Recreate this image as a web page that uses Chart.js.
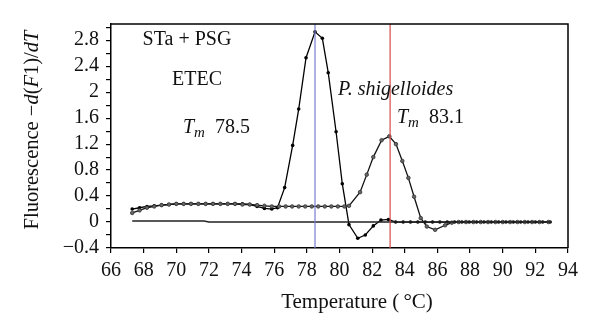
<!DOCTYPE html>
<html>
<head>
<meta charset="utf-8">
<script src="https://cdn.jsdelivr.net/npm/chart.js@4"></script>
<style>
  html, body { margin: 0; padding: 0; background: #fff; }
  #wrap { width: 600px; height: 335px; }
</style>
</head>
<body>
<div id="wrap"><canvas id="melt" width="600" height="335"></canvas></div>
<script>
// ETEC curve (filled dots)
const etecTemps = [67.3, 67.75, 68.2, 68.65, 69.1, 69.55, 70.0, 70.45, 70.9, 71.35, 71.8, 72.25, 72.7, 73.15, 73.6, 74.05, 74.5, 74.95, 75.4, 75.85, 76.2,
  76.64, 77.13, 77.5, 77.95, 78.5, 78.95, 79.31, 79.79, 80.17, 80.58, 81.12, 81.58, 82.07, 82.54, 83.0, 83.44,
  83.9, 84.35, 84.8, 85.25, 85.7, 86.15, 86.6, 87.05, 87.5, 87.95, 88.4, 88.85, 89.3, 89.75, 90.2, 90.65, 91.1, 91.55, 92.0, 92.45, 92.9];
const etecValues = [0.2, 0.22, 0.24, 0.25, 0.26, 0.27, 0.28, 0.28, 0.28, 0.28, 0.28, 0.28, 0.28, 0.28, 0.28, 0.28, 0.27, 0.24, 0.21, 0.2, 0.22,
  0.53, 1.18, 1.74, 2.53, 2.93, 2.83, 2.3, 1.39, 0.59, -0.04, -0.25, -0.2, -0.06, 0.03, 0.04, 0.0,
  0.0, 0.0, 0.0, 0.0, 0.0, 0.0, 0.0, 0.0, 0.0, 0.0, 0.0, 0.0, 0.0, 0.0, 0.0, 0.0, 0.0, 0.0, 0.0, 0.0, 0.0];

// P. shigelloides curve
const psgTemps = [67.3, 67.75, 68.2, 68.65, 69.1, 69.55, 70.0, 70.45, 70.9, 71.35, 71.8, 72.25, 72.7, 73.15, 73.6, 74.05, 74.5, 74.95, 75.4, 75.85,
  76.3, 76.7, 77.1, 77.5, 77.9, 78.3, 78.7, 79.1, 79.5, 79.9, 80.3, 80.58, 81.26, 81.67, 82.07, 82.58, 83.05, 83.46, 83.85, 84.22, 84.57, 84.98,
  85.35, 85.86, 86.47, 86.88, 87.3, 87.75, 88.2, 88.65, 89.1, 89.55, 90.0, 90.45, 90.9, 91.35, 91.8, 92.25, 92.8];
const psgValues = [0.14, 0.18, 0.22, 0.24, 0.26, 0.27, 0.28, 0.28, 0.28, 0.28, 0.28, 0.28, 0.28, 0.28, 0.28, 0.27, 0.27, 0.26, 0.25, 0.24,
  0.24, 0.24, 0.24, 0.24, 0.24, 0.24, 0.24, 0.24, 0.24, 0.24, 0.24, 0.25, 0.46, 0.73, 1.0, 1.26, 1.32, 1.2, 0.94, 0.68, 0.39, 0.06,
  -0.07, -0.12, -0.05, -0.01, 0.0, 0.0, 0.0, 0.0, 0.0, 0.0, 0.0, 0.0, 0.0, 0.0, 0.0, 0.0, 0.0];

// baseline (no markers)
const baseTemps = [67.3, 71.7, 72.0, 93.0];
const baseValues = [0.015, 0.015, 0.0, 0.0];

// melting temperatures
const tmEtec = 78.5;
const tmPsg = 83.1;

const xTicks = [66, 68, 70, 72, 74, 76, 78, 80, 82, 84, 86, 88, 90, 92, 94];
const yTickLabels = [-0.4, 0, 0.4, 0.8, 1.2, 1.6, 2, 2.4, 2.8];
const yMin = -0.4, yMax = 3.05;

const toPoints = (xs, ys) => xs.map((x, i) => ({ x: x, y: ys[i] }));
const SERIF = '"Liberation Serif", "DejaVu Serif", serif';

// texts drawn by hand (italic parts, axis titles, frame)
const annotations = {
  id: 'annotations',
  afterDraw(chart) {
    const ctx = chart.ctx;
    const a = chart.chartArea;
    ctx.save();
    // frame top + right
    ctx.strokeStyle = '#000';
    ctx.lineWidth = 1.5;
    ctx.beginPath();
    ctx.moveTo(a.left, a.top);
    ctx.lineTo(a.right, a.top);
    ctx.lineTo(a.right, a.bottom);
    ctx.stroke();

    ctx.fillStyle = '#111';
    ctx.textBaseline = 'middle';
    ctx.textAlign = 'center';
    ctx.font = '20px ' + SERIF;
    ctx.fillText('STa + PSG', 187, 40);
    ctx.fillText('ETEC', 197, 80);

    // pieces of mixed-style text
    function runs(parts, x, y) {
      let cx = x;
      parts.forEach(p => {
        ctx.font = p[1] + SERIF;
        ctx.fillText(p[0], cx, y + (p[2] || 0));
        cx += ctx.measureText(p[0]).width;
      });
      return cx;
    }
    function width(parts) {
      let w = 0;
      parts.forEach(p => { ctx.font = p[1] + SERIF; w += ctx.measureText(p[0]).width; });
      return w;
    }
    ctx.textAlign = 'left';
    runs([['T', 'italic 20px '], ['m', 'italic 15px ', 5], ['  78.5', '20px ']], 183, 128);
    runs([['P. shigelloides', 'italic 20px ']], 338, 90);
    runs([['T', 'italic 20px '], ['m', 'italic 15px ', 5], ['  83.1', '20px ']], 397, 118);

    // x title
    const xt = [['Temperature (', '21px '], ['\u2009°C)', '21px ']];
    runs(xt, 357 - width(xt) / 2, 302);

    // y title, rotated
    const yt = [['Fluorescence \u2212', '20.5px '], ['d', 'italic 20.5px '], ['(', '20.5px '], ['F', 'italic 20.5px '],
      ['1)/', '20.5px '], ['d', 'italic 20.5px '], ['T', 'italic 20.5px ']];
    ctx.translate(33, 130);
    ctx.rotate(-Math.PI / 2);
    runs(yt, -width(yt) / 2, 0);
    ctx.restore();
  }
};

new Chart(document.getElementById('melt').getContext('2d'), {
  type: 'line',
  data: {
    datasets: [
      {
        label: 'Tm ETEC',
        data: toPoints([tmEtec, tmEtec], [yMin, yMax]),
        borderColor: '#7a7cd0',
        borderWidth: 1.2,
        pointRadius: 0
      },
      {
        label: 'Tm P. shigelloides',
        data: toPoints([tmPsg, tmPsg], [yMin, yMax]),
        borderColor: '#d24b4b',
        borderWidth: 1.2,
        pointRadius: 0
      },
      {
        label: 'baseline',
        data: toPoints(baseTemps, baseValues),
        borderColor: '#222',
        borderWidth: 1.4,
        pointRadius: 0
      },
      {
        label: 'P. shigelloides',
        data: toPoints(psgTemps, psgValues),
        borderColor: '#111',
        borderWidth: 1.3,
        pointRadius: 1.8,
        pointBackgroundColor: '#666',
        pointBorderColor: '#333',
        pointBorderWidth: 0.8,
        tension: 0
      },
      {
        label: 'ETEC',
        data: toPoints(etecTemps, etecValues),
        borderColor: '#000',
        borderWidth: 1.3,
        pointRadius: 1.8,
        pointBackgroundColor: '#000',
        pointBorderColor: '#000',
        pointBorderWidth: 0,
        tension: 0
      }
    ]
  },
  options: {
    responsive: false,
    animation: false,
    layout: { padding: { top: 24, right: 32, left: 0, bottom: 0 } },
    plugins: { legend: { display: false }, tooltip: { enabled: false } },
    scales: {
      x: {
        type: 'linear',
        min: 66,
        max: 94,
        afterFit: s => { s.height = 87; },
        afterBuildTicks: s => { s.ticks = xTicks.map(v => ({ value: v })); },
        grid: { display: true, drawOnChartArea: false, drawTicks: true, tickLength: 5, color: '#000', lineWidth: 1.2 },
        border: { display: true, color: '#000', width: 1.5 },
        ticks: { color: '#111', font: { family: SERIF, size: 20 }, padding: 6, maxRotation: 0, autoSkip: false }
      },
      y: {
        type: 'linear',
        min: yMin,
        max: yMax,
        afterFit: s => { s.width = 111; },
        afterBuildTicks: s => {
          const t = [];
          for (let v = -0.4; v <= 3.0001; v += 0.2) t.push({ value: Math.round(v * 10) / 10 });
          s.ticks = t;
        },
        grid: { display: true, drawOnChartArea: false, drawTicks: true, tickLength: 5, color: '#000', lineWidth: 1.2 },
        border: { display: true, color: '#000', width: 1.5 },
        ticks: {
          color: '#111',
          font: { family: SERIF, size: 20 },
          padding: 7,
          autoSkip: false,
          callback: v => {
            const hit = yTickLabels.find(l => Math.abs(l - v) < 1e-6);
            if (hit === undefined) return '';
            return hit < 0 ? '\u2212' + Math.abs(hit) : String(hit);
          }
        }
      }
    }
  },
  plugins: [annotations]
});
</script>
</body>
</html>
